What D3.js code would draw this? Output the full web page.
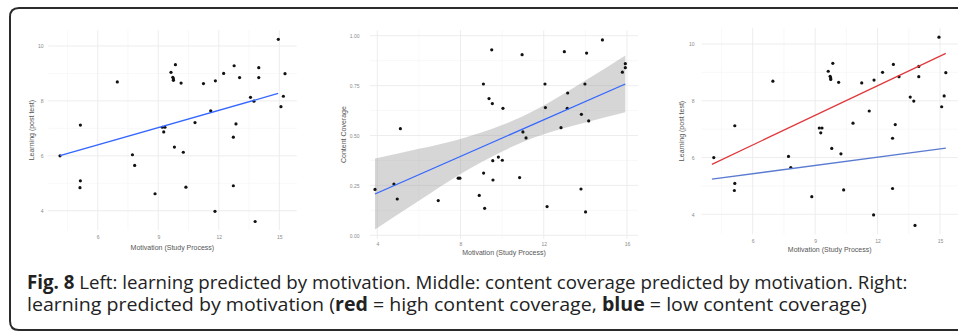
<!DOCTYPE html>
<html>
<head>
<meta charset="utf-8">
<script src="https://cdn.jsdelivr.net/npm/d3@7"></script>
<style>
  body { margin: 0; background: #fff; }
  svg { display: block; }
</style>
</head>
<body>
<script>
// learning (post test) against motivation, used by left and right panels
var motivation = [4.13, 5.14, 5.14, 5.12, 6.97, 7.72, 7.83, 8.84, 9.2, 9.33, 9.27, 9.63, 9.72, 9.75, 9.75, 9.85, 9.8, 10.13, 10.24, 10.37,
  10.82, 11.24, 11.6, 11.83, 11.81, 12.24, 12.76, 13.03, 12.85, 12.72, 12.72, 13.57, 13.74, 13.8, 13.98, 13.98, 14.95, 15.28, 15.2, 15.08];
var learning = [6.0, 7.12, 5.09, 4.84, 8.69, 6.04, 5.65, 4.62, 7.04, 7.04, 6.87, 9.04, 8.86, 8.8, 8.75, 9.32, 6.32, 8.65, 6.13, 4.86,
  7.21, 8.63, 7.64, 8.73, 3.98, 9.0, 9.28, 8.85, 7.16, 6.68, 4.91, 8.13, 7.99, 3.61, 9.21, 8.85, 10.24, 8.99, 8.17, 7.79];

// content coverage against motivation, middle panel
var motivationCov = [3.89, 4.8, 4.96, 5.11, 6.93, 7.89, 7.97, 8.9, 9.1, 9.11, 9.16, 9.37, 9.5, 9.53, 9.55, 9.56, 9.82, 10.01, 10.04, 10.84,
  10.96, 11.0, 11.15, 12.06, 12.08, 12.16, 12.83, 12.99, 13.15, 13.13, 13.79, 13.81, 13.98, 14.01, 14.06, 14.16, 14.82, 15.78, 15.92, 15.92];
var coverage = [0.23, 0.257, 0.182, 0.534, 0.174, 0.286, 0.286, 0.2, 0.758, 0.312, 0.135, 0.685, 0.929, 0.66, 0.374, 0.277, 0.392, 0.376, 0.636, 0.289,
  0.905, 0.518, 0.488, 0.758, 0.64, 0.144, 0.539, 0.92, 0.713, 0.636, 0.232, 0.606, 0.758, 0.117, 0.913, 0.573, 0.979, 0.817, 0.84, 0.86];

// fitted lines (end points) and confidence band
var fitLeftX = [4.13, 14.94], fitLeftY = [6.01, 8.27];
var fitMidX = [3.89, 15.92], fitMidY = [0.207, 0.758];
var bandX = [3.89, 6, 8, 10, 11, 12, 14, 15.92];
var bandLo = [0.029, 0.173, 0.307, 0.42, 0.468, 0.506, 0.565, 0.617];
var bandHi = [0.385, 0.433, 0.483, 0.552, 0.596, 0.65, 0.775, 0.901];
var fitRightX = [4.04, 15.28];
var fitHighY = [5.76, 9.67], fitLowY = [5.24, 6.33];

// ticks
var learnTicks = [4, 6, 8, 10], learnMinor = [5, 7, 9];
var motTicks = [6, 9, 12, 15], motMinor = [4.5, 7.5, 10.5, 13.5];
var covTicks = [0, 0.25, 0.5, 0.75, 1], covMinor = [0.125, 0.375, 0.625, 0.875];
var motCovTicks = [4, 8, 12, 16], motCovMinor = [6, 10, 14];

var captionLine1 = [['Fig. 8', 700], [' Left: learning predicted by motivation. Middle: content coverage predicted by motivation. Right:', 400]];
var captionLine2 = [['learning predicted by motivation (', 400], ['red', 700], [' = high content coverage, ', 400], ['blue', 700], [' = low content coverage)', 400]];

var W = 958, H = 332;
var svg = d3.select('body').append('svg').attr('width', W).attr('height', H)
  .style('font-family', '"Liberation Sans", Arial, sans-serif');

// frame, open on the right
svg.append('path')
  .attr('d', 'M' + (W + 5) + ',8 H19 Q10,8 10,17 V321 Q10,330 19,330 H' + (W + 5))
  .attr('fill', 'none').attr('stroke', '#2b2b2b').attr('stroke-width', 2);

function panel(o) {
  var g = svg.append('g');
  var x = d3.scaleLinear().domain(o.xd).range(o.xr);
  var y = d3.scaleLinear().domain(o.yd).range(o.yr);

  // grid
  var grid = g.append('g');
  grid.selectAll('.vmin').data(o.xMinor).join('line')
    .attr('x1', d => x(d)).attr('x2', d => x(d)).attr('y1', o.yr[0]).attr('y2', o.yr[1])
    .attr('stroke', '#f3f3f3').attr('stroke-width', 0.6);
  grid.selectAll('.hmin').data(o.yMinor).join('line')
    .attr('y1', d => y(d)).attr('y2', d => y(d)).attr('x1', o.xr[0]).attr('x2', o.xr[1])
    .attr('stroke', '#f3f3f3').attr('stroke-width', 0.6);
  grid.selectAll('.vmaj').data(o.xTicks).join('line')
    .attr('x1', d => x(d)).attr('x2', d => x(d)).attr('y1', o.yr[0]).attr('y2', o.yr[1])
    .attr('stroke', '#ebebeb').attr('stroke-width', 0.9);
  grid.selectAll('.hmaj').data(o.yTicks).join('line')
    .attr('y1', d => y(d)).attr('y2', d => y(d)).attr('x1', o.xr[0]).attr('x2', o.xr[1])
    .attr('stroke', '#ebebeb').attr('stroke-width', 0.9);

  // axes (labels only)
  var ya = g.append('g').attr('transform', 'translate(' + o.xr[0] + ',0)')
    .call(d3.axisLeft(y).tickValues(o.yTicks).tickSize(0).tickPadding(o.xr[0] - o.yLabelX).tickFormat(o.yFmt));
  var xa = g.append('g').attr('transform', 'translate(0,' + o.xLabelY + ')')
    .call(d3.axisBottom(x).tickValues(o.xTicks).tickSize(0).tickPadding(0).tickFormat(d3.format('d')));
  [ya, xa].forEach(a => {
    a.select('.domain').remove();
    a.selectAll('text').attr('fill', '#8a8a8a').style('font-size', '5px').style('font-family', null);
  });
  xa.selectAll('text').attr('y', 0).attr('dy', null).attr('dominant-baseline', 'central');
  ya.selectAll('text').attr('dominant-baseline', 'central').attr('dy', null);

  g.append('text').attr('x', (o.xr[0] + o.xr[1]) / 2).attr('y', o.xTitleY)
    .attr('text-anchor', 'middle').attr('dominant-baseline', 'central')
    .attr('fill', '#555').style('font-size', '7px').text(o.xTitle);
  g.append('text').attr('transform', 'translate(' + o.yTitleX + ',' + (o.yr[0] + o.yr[1]) / 2 + ') rotate(-90)')
    .attr('text-anchor', 'middle').attr('dominant-baseline', 'central')
    .attr('fill', '#555').style('font-size', '7px').text(o.yTitle);

  if (o.band) {
    g.append('path').datum(o.band.x.map((v, i) => [v, o.band.lo[i], o.band.hi[i]]))
      .attr('d', d3.area().x(d => x(d[0])).y0(d => y(d[1])).y1(d => y(d[2])).curve(d3.curveMonotoneX))
      .attr('fill', '#999').attr('fill-opacity', 0.4);
  }

  g.selectAll('.pt').data(o.px.map((v, i) => [v, o.py[i]])).join('circle')
    .attr('cx', d => x(d[0])).attr('cy', d => y(d[1])).attr('r', 1.6).attr('fill', '#111');

  o.lines.forEach(l => {
    g.append('path').datum(l.x.map((v, i) => [v, l.y[i]]))
      .attr('d', d3.line().x(d => x(d[0])).y(d => y(d[1])))
      .attr('fill', 'none').attr('stroke', l.color).attr('stroke-width', 1.3);
  });
}

panel({
  xd: [3.54, 15.86], xr: [48.1, 296.7], yd: [3.3, 10.57], yr: [230, 30.3],
  xTicks: motTicks, xMinor: motMinor, yTicks: learnTicks, yMinor: learnMinor, yFmt: d3.format('d'),
  yLabelX: 43.5, xLabelY: 236.7, xTitleY: 247.3, yTitleX: 31,
  xTitle: 'Motivation (Study Process)', yTitle: 'Learning (post test)',
  px: motivation, py: learning,
  lines: [{ x: fitLeftX, y: fitLeftY, color: '#3366ff' }]
});

panel({
  xd: [3.65, 16.53], xr: [370, 638], yd: [-0.018, 1.027], yr: [238.9, 30.3],
  xTicks: motCovTicks, xMinor: motCovMinor, yTicks: covTicks, yMinor: covMinor, yFmt: d3.format('.2f'),
  yLabelX: 359.5, xLabelY: 244.3, xTitleY: 252.3, yTitleX: 343.3,
  xTitle: 'Motivation (Study Process)', yTitle: 'Content Coverage',
  px: motivationCov, py: coverage,
  band: { x: bandX, lo: bandLo, hi: bandHi },
  lines: [{ x: fitMidX, y: fitMidY, color: '#3366ff' }]
});

panel({
  xd: [3.54, 15.86], xr: [701.5, 957.9], yd: [3.3, 10.57], yr: [234.2, 27.8],
  xTicks: motTicks, xMinor: motMinor, yTicks: learnTicks, yMinor: learnMinor, yFmt: d3.format('d'),
  yLabelX: 694.5, xLabelY: 241, xTitleY: 249.3, yTitleX: 681.7,
  xTitle: 'Motivation (Study Process)', yTitle: 'Learning (post test)',
  px: motivation, py: learning,
  lines: [{ x: fitRightX, y: fitHighY, color: '#e0383c' }, { x: fitRightX, y: fitLowY, color: '#5a7bd0' }]
});

// caption, each line squeezed to the width it has in the figure
var cap = svg.append('g').style('font-family', '"Open Sans", "Noto Sans", sans-serif').style('font-size', '19px').attr('fill', '#222');
var t1 = cap.append('text').attr('y', 289.5);
captionLine1.forEach(s => t1.append('tspan').attr('font-weight', s[1]).text(s[0]));
var t2 = cap.append('text').attr('y', 311.5);
captionLine2.forEach(s => t2.append('tspan').attr('font-weight', s[1]).text(s[0]));
t1.attr('transform', 'translate(27,0) scale(' + (881 / t1.node().getComputedTextLength()) + ',1)');
t2.attr('transform', 'translate(27,0) scale(' + (840 / t2.node().getComputedTextLength()) + ',1)');
</script>
</body>
</html>
